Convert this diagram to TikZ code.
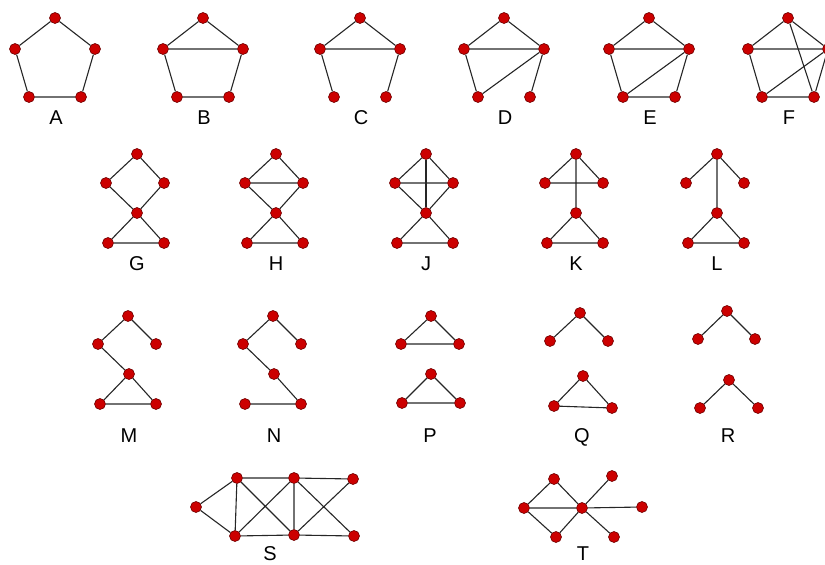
\documentclass[tikz,border=0pt]{standalone}
\usepackage{fontspec}
\setmainfont{Liberation Sans}
\definecolor{nodered}{RGB}{204,0,0}
\definecolor{noderim}{RGB}{110,0,0}
\begin{document}
\begin{tikzpicture}[x=1pt, y=-1pt,
  vtx/.style={circle, fill=nodered, draw=noderim, line width=0.6pt, minimum size=11pt, inner sep=0pt},
  edge/.style={line width=1.1pt, draw=black!85},
  lbl/.style={font=\fontsize{20}{21}\selectfont, inner sep=0pt, anchor=base}]
  \useasboundingbox (0,0) rectangle (825,565);

  % 1. Pentagon row (1 top, 2 left, 3 right, 4 bottom left, 5 bottom right)
  \foreach \g/\ox in {A/0,B/148,C/305,D/449,E/594,F/733} {
    \node[vtx] (\g1) at (55+\ox,18) {};
    \node[vtx] (\g2) at (15+\ox,49) {};
    \node[vtx] (\g3) at (95+\ox,49) {};
    \node[vtx] (\g4) at (29+\ox,97) {};
    \node[vtx] (\g5) at (81+\ox,97) {};
    \node[lbl] (lab\g) at (56+\ox,124) {\g};
  }
  \draw[edge] (A2) -- (A1) -- (A3) -- (A5) -- (A4) -- (A2);
  \draw[edge] (B2) -- (B1) -- (B3) -- (B5) -- (B4) -- (B2) -- (B3);
  \draw[edge] (C4) -- (C2) -- (C1) -- (C3) -- (C5) (C2) -- (C3);
  \draw[edge] (D4) -- (D2) -- (D1) -- (D3) -- (D5) (D2) -- (D3) -- (D4);
  \draw[edge] (E2) -- (E1) -- (E3) -- (E5) -- (E4) -- (E2) -- (E3) -- (E4);
  \draw[edge] (F2) -- (F1) -- (F3) -- (F5) -- (F4) -- (F2) -- (F3) -- (F4);
  \draw[edge] (F1) -- (F5);

  % 2. Bow-tie row (1 top, 2 left, 3 right, 4 middle, 5 bottom left, 6 bottom right)
  \foreach \g/\ox in {G/0,H/139,J/289,K/439,L/580} {
    \node[vtx] (\g1) at (137+\ox,154) {};
    \node[vtx] (\g2) at (106+\ox,183) {};
    \node[vtx] (\g3) at (164+\ox,183) {};
    \node[vtx] (\g4) at (137+\ox,213) {};
    \node[vtx] (\g5) at (108+\ox,243) {};
    \node[vtx] (\g6) at (164+\ox,243) {};
    \node[lbl] (lab\g) at (137+\ox,270) {\g};
  }
  \draw[edge] (G2) -- (G1) -- (G3) -- (G4) -- (G2) (G4) -- (G5) -- (G6) -- (G4);
  \draw[edge] (H2) -- (H1) -- (H3) -- (H4) -- (H2) (H4) -- (H5) -- (H6) -- (H4) (H2) -- (H3);
  \draw[edge] (J2) -- (J1) -- (J3) -- (J4) -- (J2) (J4) -- (J5) -- (J6) -- (J4) (J2) -- (J3);
  \draw[edge] (J1) -- (J4);
  \draw[edge] (K2) -- (K1) -- (K3) -- (K2) (K1) -- (K4) -- (K5) -- (K6) -- (K4);
  \draw[edge] (L2) -- (L1) -- (L3) (L1) -- (L4) -- (L5) -- (L6) -- (L4);

  % 3. Split row
  \foreach \g/\ox in {M/0,N/145} {
    \node[vtx] (\g1) at (128+\ox,316) {};
    \node[vtx] (\g2) at (98+\ox,344) {};
    \node[vtx] (\g3) at (156+\ox,344) {};
    \node[vtx] (\g4) at (129+\ox,374) {};
    \node[vtx] (\g5) at (100+\ox,404) {};
    \node[vtx] (\g6) at (156+\ox,404) {};
    \node[lbl] (lab\g) at (129+\ox,442) {\g};
  }
  \draw[edge] (M3) -- (M1) -- (M2) -- (M4) -- (M5) -- (M6) -- (M4);
  \draw[edge] (N3) -- (N1) -- (N2) -- (N4) -- (N6) -- (N5);

  % two triangles
  \node[vtx] (P1) at (431,316) {};
  \node[vtx] (P2) at (401,344) {};
  \node[vtx] (P3) at (459,344) {};
  \node[vtx] (P4) at (431,374) {};
  \node[vtx] (P5) at (402,403) {};
  \node[vtx] (P6) at (460,403) {};
  \node[lbl] (labP) at (430,442) {P};
  \draw[edge] (P1) -- (P2) -- (P3) -- (P1) (P4) -- (P5) -- (P6) -- (P4);

  % path plus triangle
  \node[vtx] (Q1) at (580,313) {};
  \node[vtx] (Q2) at (550,341) {};
  \node[vtx] (Q3) at (608,341) {};
  \node[vtx] (Q4) at (583,376) {};
  \node[vtx] (Q5) at (554,406) {};
  \node[vtx] (Q6) at (612,408) {};
  \node[lbl] (labQ) at (582,442) {Q};
  \draw[edge] (Q2) -- (Q1) -- (Q3) (Q4) -- (Q5) -- (Q6) -- (Q4);

  % two paths
  \node[vtx] (R1) at (727,311) {};
  \node[vtx] (R2) at (698,339) {};
  \node[vtx] (R3) at (755,339) {};
  \node[vtx] (R4) at (729,380) {};
  \node[vtx] (R5) at (700,408) {};
  \node[vtx] (R6) at (758,408) {};
  \node[lbl] (labR) at (728,442) {R};
  \draw[edge] (R2) -- (R1) -- (R3) (R5) -- (R4) -- (R6);

  % 4. Bottom row
  \node[vtx] (S1) at (196,507) {};
  \node[vtx] (S2) at (237,478) {};
  \node[vtx] (S3) at (235,536) {};
  \node[vtx] (S4) at (294,478) {};
  \node[vtx] (S5) at (294,535) {};
  \node[vtx] (S6) at (353,479) {};
  \node[vtx] (S7) at (354,536) {};
  \node[lbl] (labS) at (270,560) {S};
  \draw[edge] (S2) -- (S1) -- (S3) -- (S2) -- (S4) -- (S6) (S3) -- (S5) -- (S7);
  \draw[edge] (S2) -- (S5) (S3) -- (S4) -- (S5) (S4) -- (S7) (S5) -- (S6);

  \node[vtx] (T1) at (524,508) {};
  \node[vtx] (T2) at (554,479) {};
  \node[vtx] (T3) at (556,537) {};
  \node[vtx] (T4) at (582,508) {};
  \node[vtx] (T5) at (612,476) {};
  \node[vtx] (T6) at (642,507) {};
  \node[vtx] (T7) at (614,537) {};
  \node[lbl] (labT) at (583,560) {T};
  \draw[edge] (T1) -- (T2) -- (T4) -- (T3) -- (T1) -- (T4);
  \draw[edge] (T4) -- (T5) (T4) -- (T6) (T4) -- (T7);
\end{tikzpicture}
\end{document}
